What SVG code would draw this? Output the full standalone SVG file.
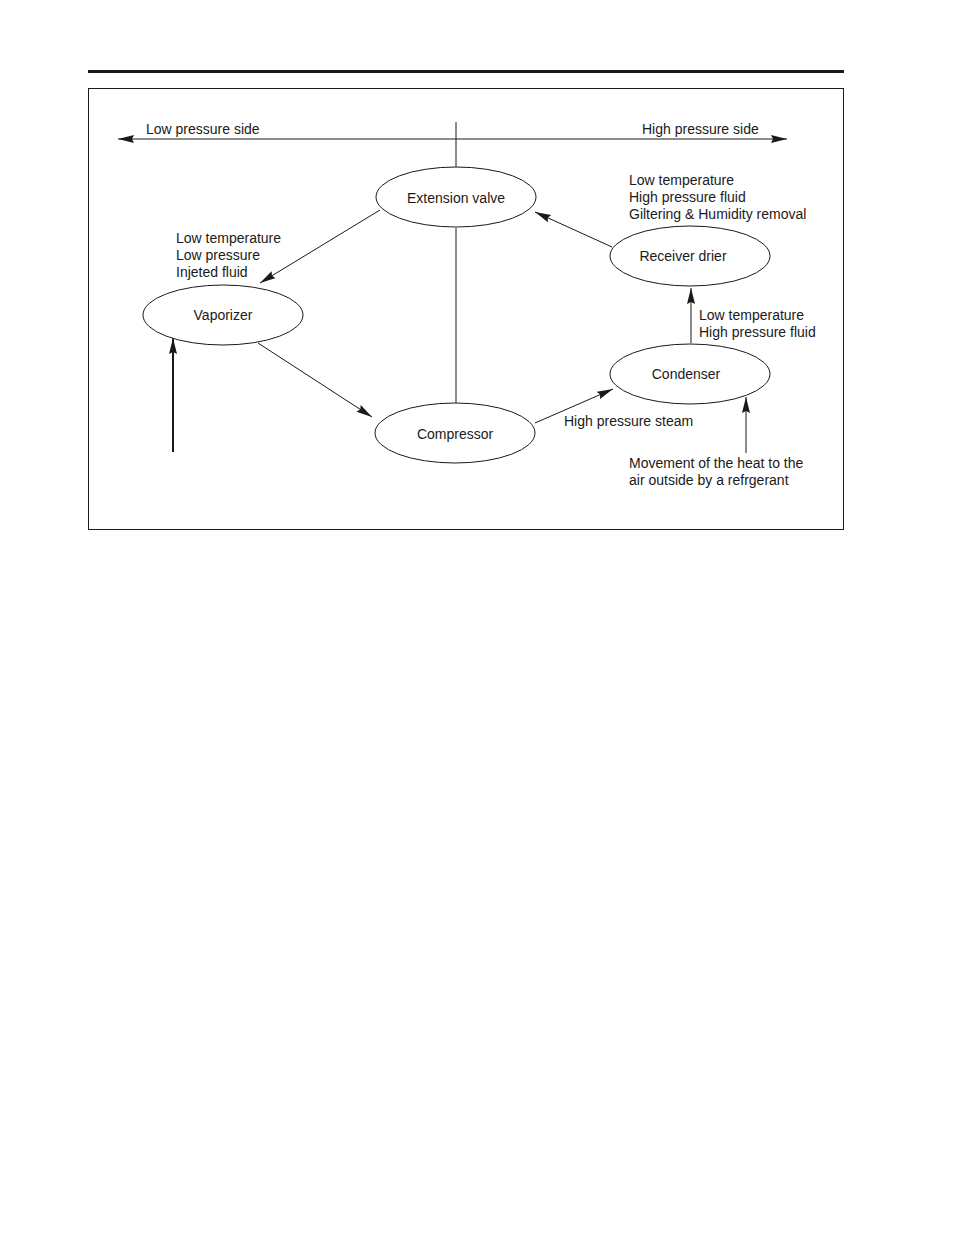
<svg xmlns="http://www.w3.org/2000/svg" width="954" height="1235" viewBox="0 0 954 1235">
<style>
text{font-family:"Liberation Sans",Arial,sans-serif;font-size:14px;fill:#1a1a1a}
.n ellipse{fill:#fff;stroke:#1a1a1a;stroke-width:1}
.n text{text-anchor:middle}
.c line{stroke:#1a1a1a;stroke-width:1;fill:none}
</style>
<defs>
<marker id="ah" viewBox="0 0 16 8" refX="16" refY="4" markerWidth="16" markerHeight="8" markerUnits="userSpaceOnUse" orient="auto">
<path d="M0,0 L16,4 L0,8 L2,4 z" fill="#1a1a1a"/>
</marker>
</defs>
<rect width="954" height="1235" fill="#fff"/>
<rect x="88" y="70" width="756" height="3" fill="#1a1a1a"/>
<rect x="88.5" y="88.5" width="755" height="441" fill="none" stroke="#1a1a1a" stroke-width="1"/>
<g class="c">
<line x1="456" y1="139" x2="118" y2="139" marker-end="url(#ah)"/>
<line x1="456" y1="139" x2="787" y2="139" marker-end="url(#ah)"/>
<line x1="456" y1="122" x2="456" y2="167"/>
<line x1="456" y1="228" x2="456" y2="403"/>
<line x1="380" y1="210" x2="260" y2="283" marker-end="url(#ah)"/>
<line x1="258" y1="343" x2="372" y2="417" marker-end="url(#ah)"/>
<line x1="173" y1="452" x2="173" y2="338" marker-end="url(#ah)" style="stroke-width:2"/>
<line x1="535" y1="423" x2="613" y2="389" marker-end="url(#ah)"/>
<line x1="691" y1="343" x2="691" y2="288" marker-end="url(#ah)"/>
<line x1="746" y1="453" x2="746" y2="397" marker-end="url(#ah)"/>
<line x1="612" y1="247" x2="535" y2="212" marker-end="url(#ah)"/>
</g>
<g id="extension-valve" class="n"><ellipse cx="456" cy="197" rx="80" ry="30"/><text x="456" y="203">Extension valve</text></g>
<g id="vaporizer" class="n"><ellipse cx="223" cy="315" rx="80" ry="30"/><text x="223" y="320">Vaporizer</text></g>
<g id="compressor" class="n"><ellipse cx="455" cy="433" rx="80" ry="30"/><text x="455" y="439">Compressor</text></g>
<g id="receiver-drier" class="n"><ellipse cx="690" cy="256" rx="80" ry="30"/><text x="683" y="261">Receiver drier</text></g>
<g id="condenser" class="n"><ellipse cx="690" cy="374" rx="80" ry="30"/><text x="686" y="379">Condenser</text></g>
<g id="labels">
<text x="146" y="134">Low pressure side</text>
<text x="642" y="134">High pressure side</text>
<text x="629" y="185">Low temperature</text>
<text x="629" y="202">High pressure fluid</text>
<text x="629" y="219">Giltering &amp; Humidity removal</text>
<text x="176" y="243">Low temperature</text>
<text x="176" y="260">Low pressure</text>
<text x="176" y="277">Injeted fluid</text>
<text x="699" y="320">Low temperature</text>
<text x="699" y="337">High pressure fluid</text>
<text x="564" y="426">High pressure steam</text>
<text x="629" y="468">Movement of the heat to the</text>
<text x="629" y="485">air outside by a refrgerant</text>
</g>
</svg>
